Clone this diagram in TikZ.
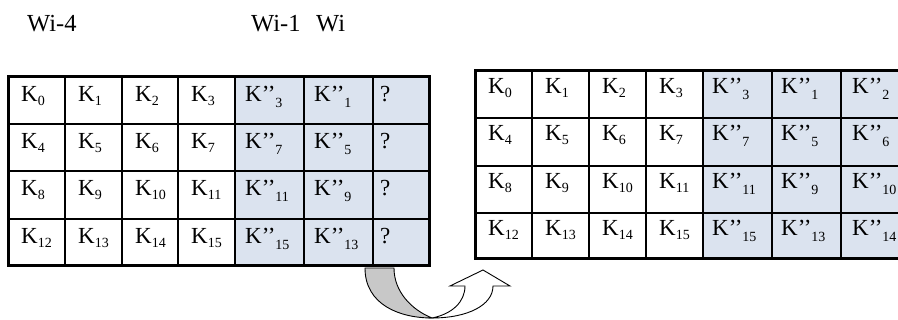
\documentclass[tikz,border=0pt]{standalone}
\usepackage{fontspec}
\setmainfont{Liberation Serif}
\definecolor{cellblue}{RGB}{219,227,239}
\definecolor{bandgray}{RGB}{200,200,200}
% key with a plain subscript, and key with double prime and subscript
\newcommand{\Ksub}[1]{K\raisebox{-3.5pt}{\fontsize{14}{14}\selectfont #1}}
\newcommand{\Kpp}[1]{K’’\raisebox{-6pt}{\fontsize{14}{14}\selectfont #1}}

\begin{document}
\begin{tikzpicture}[x=1pt,y=-1pt,
  font=\fontsize{23}{25}\selectfont,
  celltext/.style={anchor=base west, inner sep=0pt},
  wordlabel/.style={anchor=base west, inner sep=0pt, font=\fontsize{24.5}{26}\selectfont},
  gridline/.style={line width=2.6pt},
  frame/.style={line width=3pt, line join=miter},
  arrowline/.style={line width=0.9pt, line join=miter}]
\useasboundingbox (0,0) rectangle (898,320);
\clip (0,0) rectangle (898,320);

% word labels above the left schedule
\node[wordlabel] (w4) at (27,32) {Wi-4};
\node[wordlabel] (w1) at (251,32) {Wi-1};
\node[wordlabel] (w0) at (316,32) {Wi};

% ---------- left key schedule ----------
\fill[cellblue] (235,77) rectangle (429,266);
\foreach \x in {65,122,178,235,304,373}
  \draw[gridline] (\x,77) -- (\x,266);
\foreach \y in {124,171,219}
  \draw[gridline] (8,\y) -- (429,\y);
\draw[frame] (8,77) rectangle (429,266);

\foreach \r/\yb/\a/\b/\c/\d/\e/\f in {
  0/102/0/1/2/3/3/1,
  1/149/4/5/6/7/7/5,
  2/196/8/9/10/11/11/9,
  3/244/12/13/14/15/15/13}{
  \node[celltext] (L\r a) at (21,\yb)  {\Ksub{\a}};
  \node[celltext] (L\r b) at (78,\yb)  {\Ksub{\b}};
  \node[celltext] (L\r c) at (135,\yb) {\Ksub{\c}};
  \node[celltext] (L\r d) at (191,\yb) {\Ksub{\d}};
  \node[celltext] (L\r e) at (245,\yb) {\Kpp{\e}};
  \node[celltext] (L\r f) at (314,\yb) {\Kpp{\f}};
  \node[celltext] (L\r g) at (380,\yb) {?};
}

% ---------- right key schedule ----------
\fill[cellblue] (703,71) rectangle (910,259);
\foreach \x in {532,589,646,703,772,841}
  \draw[gridline] (\x,71) -- (\x,259);
\foreach \y in {118,166,213}
  \draw[gridline] (475,\y) -- (910,\y);
\draw[frame] (475,71) rectangle (910,259);

\foreach \r/\yb/\a/\b/\c/\d/\e/\f/\g in {
  0/94/0/1/2/3/3/1/2,
  1/141/4/5/6/7/7/5/6,
  2/189/8/9/10/11/11/9/10,
  3/236/12/13/14/15/15/13/14}{
  \node[celltext] (R\r a) at (488,\yb) {\Ksub{\a}};
  \node[celltext] (R\r b) at (545,\yb) {\Ksub{\b}};
  \node[celltext] (R\r c) at (602,\yb) {\Ksub{\c}};
  \node[celltext] (R\r d) at (659,\yb) {\Ksub{\d}};
  \node[celltext] (R\r e) at (712,\yb) {\Kpp{\e}};
  \node[celltext] (R\r f) at (781,\yb) {\Kpp{\f}};
  \node[celltext] (R\r g) at (852,\yb) {\Kpp{\g}};
}

% ---------- curved up arrow between the schedules ----------
\filldraw[fill=bandgray, arrowline]
  (365,268) .. controls (365,305) and (400,318) .. (432,318)
  .. controls (412,310) and (394,292) .. (394,268) -- cycle;
\filldraw[fill=white, arrowline]
  (432,318) .. controls (468,318) and (493,305) .. (493,286)
  -- (510,286) -- (483,270) -- (450,286) -- (465,286)
  .. controls (465,302) and (452,314) .. (432,318) -- cycle;
\end{tikzpicture}
\end{document}
